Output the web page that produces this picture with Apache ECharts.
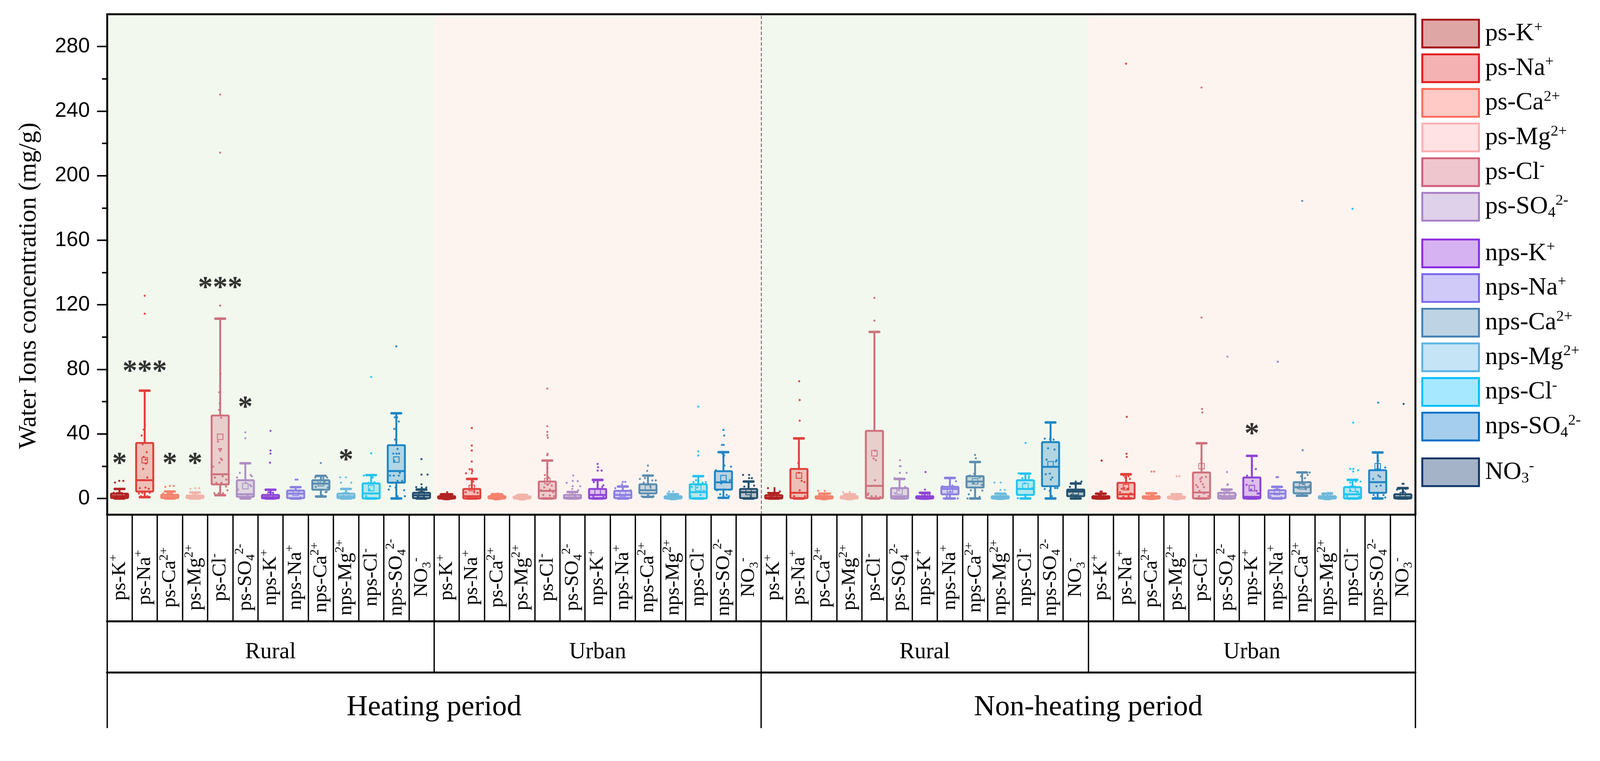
<!DOCTYPE html>
<html><head><meta charset="utf-8">
<script src="https://cdn.jsdelivr.net/npm/echarts@6/dist/echarts.min.js"></script>
<style>html,body{margin:0;padding:0;background:#fff;overflow:hidden}#c{position:absolute;left:0;top:0}</style>
</head><body><div id="c"></div>
<script>
// ---------------- DATA ----------------
const ions = ['ps-K+','ps-Na+','ps-Ca2+','ps-Mg2+','ps-Cl-','ps-SO42-','nps-K+','nps-Na+','nps-Ca2+','nps-Mg2+','nps-Cl-','nps-SO42-','NO3-'];
const ionBase = ['ps-K','ps-Na','ps-Ca','ps-Mg','ps-Cl','ps-SO','nps-K','nps-Na','nps-Ca','nps-Mg','nps-Cl','nps-SO','NO'];
const ionSub  = ['','','','','','4','','','','','','4','3'];
const ionSup  = ['+','+','2+','2+','-','2-','+','+','2+','2+','-','2-','-'];
const groupNames = ['Heating-Rural','Heating-Urban','Non-heating-Rural','Non-heating-Urban'];
const siteLabels = ['Rural','Urban','Rural','Urban'];
const periodLabels = ['Heating period','Non-heating period'];
const yTicks = [0,40,80,120,160,200,240,280];
const yMinorTicks = [20,60,100,140,180,220,260];

// box statistics per ion: [lowWhisker, Q1, median, Q3, highWhisker, mean]
const heatingRural = [
  [0,0.3,1.5,3.0,5.9,2.0],[0.8,4.3,11.3,34.4,66.8,23.7],[0,0.3,1.0,2.3,4.3,1.5],[0,0.2,0.8,1.8,3.7,1.2],
  [2.0,8.7,15.0,51.4,111.4,38.2],[0,1.0,2.6,11.3,21.8,7.6],[0,0.1,0.8,2.2,5.4,2.0],[0,0.2,3.0,4.9,7.0,3.5],
  [1.2,5.4,9.2,11.3,14.0,9.5],[0,0.2,1.4,3.0,5.9,2.0],[0,0,3.1,9.3,14.5,6.4],[0,9.8,17.0,33.0,52.8,24.1],[0,0.2,2.0,3.5,5.5,2.5]];
const heatingUrban = [
  [0,0,0.6,1.4,2.6,0.9],[0,0,1.4,5.9,12.1,6.5],[0,0,0.5,1.4,2.6,0.8],[0,0,0.4,1.3,2.2,0.7],
  [0,0,4.7,10.5,23.5,10.8],[0,0,0.6,2.2,4.0,2.0],[0,0,2.2,5.9,11.5,3.9],[0,0.2,2.2,4.7,7.4,3.0],
  [1.0,3.1,5.1,8.8,14.2,6.5],[0,0,0.5,1.4,2.6,0.9],[0,0,3.9,8.8,13.8,6.5],[0.4,5.5,10.0,16.9,28.7,12.6],[0,0.2,3.9,5.9,10.5,4.0]];
const nonHeatingRural = [
  [0,0,0.6,2.0,3.3,1.2],[0,0.2,3.5,18.3,37.2,14.2],[0,0,0.5,1.4,3.0,0.9],[0,0,0.4,1.4,2.6,0.8],
  [0,0.2,7.8,41.9,103.2,28.0],[0,0,1.4,6.4,12.1,4.3],[0,0,0.5,1.4,3.5,1.1],[0,2.6,5.9,7.2,12.7,5.5],
  [0,6.8,10.5,13.8,22.6,10.6],[0,0,0.5,1.4,3.0,1.0],[0,2.2,5.9,11.3,15.4,7.6],[0,7.6,19.6,34.9,47.1,21.2],[0,1.4,4.3,5.5,9.3,4.0]];
const nonHeatingUrban = [
  [0,0,0.5,1.4,3.0,1.2],[0,0,2.6,9.7,15.0,7.0],[0,0,0.5,1.4,3.2,1.0],[0,0,0.4,1.2,2.6,0.8],
  [0,0,3.7,16.1,34.2,20.0],[0,0,1.4,3.5,5.5,3.0],[0,0,1.0,13.0,26.4,6.4],[0,0.2,3.0,5.1,7.2,4.0],
  [1.7,3.2,7.0,10.1,16.1,7.5],[0,0,0.4,1.4,3.0,0.9],[0,0,2.6,7.0,11.5,6.0],[0,3.5,10.1,17.5,28.5,20.0],[0,0,0.8,2.6,6.4,2.0]];

// individual samples per group: [ionIndex, value, horizontal jitter (category widths)]
const heatingRuralPts = [
 [0,9.9,-0.18],[0,10.9,-0.01],[0,10.9,0.15],[0,1.4,-0.1],[0,1.0,0.16],[0,2.2,0.25],[0,3.5,-0.23],[0,0.6,0.08],
 [1,125.6,0],[1,114.5,0],[1,45.2,0.01],[1,42.7,-0.04],[1,39,-0.12],[1,35.7,0],[1,33.6,-0.08],[1,28.7,0.08],[1,25.8,-0.04],[1,24.1,0.04],[1,21.6,0.05],[1,18.3,-0.06],[1,13,0.1],[1,6.4,-0.19],[1,6.8,0.03],[1,6.0,0.16],[1,3.1,-0.23],[1,3.4,-0.1],[1,3.5,0.2],[1,1.4,-0.15],[1,1.4,0.11],[1,0.6,-0.04],
 [2,7.2,-0.18],[2,7.8,0],[2,7.8,0.15],[2,3.1,-0.27],[2,1.4,-0.1],[2,2.2,0.21],[2,3.9,0.08],
 [3,5.9,-0.18],[3,6.4,0.01],[3,6.4,0.17],[3,1.4,-0.27],[3,1.4,0.12],
 [4,250.3,0],[4,214.3,0],[4,119.5,0],[4,77.4,0.01],[4,65.8,-0.04],[4,58.8,-0.02],[4,54.9,-0.04],[4,50,0.04],[4,35.3,-0.09],[4,30.7,-0.04],[4,30.7,0.04],[4,29.5,0],[4,24.7,0.03],[4,23.9,0.07],[4,22.2,-0.03],[4,19.7,-0.28],[4,13,-0.21],[4,13.8,0.1],[4,9.7,-0.15],[4,9.7,0.05],[4,11.7,0.24],[4,3.2,-0.23],[4,3.2,-0.06],[4,3.2,0.11],[4,7.4,0.23],[4,5.1,0.29],
 [5,41,0],[5,37.3,0],[5,15.9,-0.22],[5,14.6,0.21],[5,13.8,0.26],[5,13,-0.33],[5,9.7,0.02],[5,8.4,0.19],[5,7.6,0.23],[5,5.5,-0.29],[5,2.2,0.1],[5,1.0,-0.16],
 [6,41.9,0],[6,29.7,0],[6,27.8,0],[6,22.2,-0.02],[6,3.9,-0.07],[6,3.5,0.1],[6,1.0,-0.2],
 [7,11.7,0],[7,11.7,0.07],[7,5.1,-0.2],[7,4.7,0.15],[7,3.1,-0.07],[7,0.6,0.19],[7,0.2,-0.16],
 [8,22,0],[8,13,-0.22],[8,13.8,-0.11],[8,12.6,0.1],[8,13,0.25],[8,9.7,-0.03],[8,10.5,0.15],[8,7.2,-0.2],[8,6.8,0.28],[8,3.9,0.19],[8,4.1,0.23],[8,1.8,0.06],
 [9,13.1,-0.23],[9,13.1,0],[9,9.8,-0.2],[9,9.8,0.21],[9,5.9,0.02],[9,3.1,-0.16],[9,1.4,0.15],
 [10,75.3,0],[10,28,0],[10,14.2,-0.29],[10,13,0.06],[10,10.1,0.13],[10,9.7,-0.11],[10,5.5,-0.07],[10,1.4,-0.2],
 [11,94.3,0],[11,50.3,-0.06],[11,50.3,0.03],[11,47.7,0.1],[11,43.1,-0.08],[11,36.5,-0.05],[11,30.7,0.05],[11,27.8,-0.12],[11,27.8,0.01],[11,27.8,0.11],[11,23.3,-0.08],[11,15.9,0.14],[11,14.2,-0.25],[11,14.2,-0.1],[11,14.2,0.1],[11,10.9,0.23],[11,10.9,0.05],[11,9.7,-0.18],[11,7.6,-0.25],[11,5.5,-0.3],[11,6.8,-0.03],[11,5.1,0.31],[11,1.4,0.34],[11,1.4,0.05],
 [12,24.4,0],[12,14.8,0],[12,14.8,0.24],[12,8.8,0],[12,7,-0.21],[12,6.8,0.01],[12,6.8,0.19],[12,5.5,-0.08],[12,1.5,0.1],[12,1.0,-0.15]];
const heatingUrbanPts = [
 [0,3.9,0.02],[0,2.6,-0.24],[0,2.6,0.23],[0,1.8,-0.09],[0,1.4,0.1],[0,0.5,-0.15],
 [1,43.7,0],[1,32.8,0],[1,29.7,0],[1,22.9,0],[1,18.1,-0.09],[1,18.1,0],[1,17,0.02],[1,15.6,-0.23],[1,15.6,0],[1,10.5,0.06],[1,3.9,-0.24],[1,3.9,0.1],[1,3.5,0.23],[1,1.0,-0.11],[1,0.5,0.2],
 [2,3.1,0.02],[2,2.1,-0.23],[2,2.1,0.23],[2,1.0,-0.11],[2,1.4,0.1],
 [3,2.6,0.02],[3,1.4,-0.24],[3,1.4,0.19],[3,1.4,0.32],[3,0.5,0],
 [4,68.1,0],[4,44.8,0],[4,41.3,0],[4,39.2,0],[4,37.7,0.02],[4,27.7,0.01],[4,26.8,0],[4,18.8,0.01],[4,14.5,-0.1],[4,13,0.05],[4,8.4,0.01],[4,8.0,0.18],[4,6.8,-0.12],[4,5.1,-0.25],[4,5.5,0.1],[4,3.9,0.23],[4,2.2,-0.16],[4,1.8,0.1],[4,1.4,0.27],
 [5,14.2,0.03],[5,10.9,0.01],[5,9.7,-0.23],[5,10.7,0.21],[5,7.6,0.01],[5,7.6,0.31],[5,5.9,-0.01],[5,5.1,0.23],[5,1.4,0.1],
 [6,21.4,0],[6,19.4,0.02],[6,17.3,0],[6,17.3,0.16],[6,10.1,-0.15],[6,8.2,0.23],[6,7.2,0.18],[6,1.4,-0.17],[6,1.0,0.23],
 [7,10.3,0],[7,10.3,0.1],[7,8.8,-0.03],[7,6.4,-0.3],[7,5.1,0.31],[7,0.2,-0.21],[7,0.2,0.18],
 [8,20.4,0],[8,17.1,-0.03],[8,12.1,-0.32],[8,12.6,-0.12],[8,11.2,0.17],[8,11.2,0.31],[8,9.8,-0.17],[8,7.2,0.1],[8,1.4,-0.25],[8,1.4,0.05],[8,1.4,0.22],
 [9,4.3,-0.16],[9,4.3,0],[9,3.1,-0.22],[9,1.4,0.17],
 [10,56.9,0],[10,29.2,0],[10,26.6,0],[10,10.1,-0.19],[10,11.3,-0.09],[10,9.8,0.17],[10,10.1,0.3],[10,7.2,-0.26],[10,6.8,-0.04],[10,4.7,0.22],[10,2.2,0.09],[10,1.4,-0.3],
 [11,42.5,0],[11,39,0.03],[11,33.2,-0.06],[11,33.2,0.01],[11,27.8,-0.04],[11,26.6,0.03],[11,25.4,0],[11,20.4,0.04],[11,19.7,0.3],[11,17.5,-0.3],[11,11.3,0.26],[11,9.3,-0.09],[11,2.6,-0.13],[11,2.2,0.13],[11,5.1,-0.26],[11,1.4,0.22],
 [12,14.6,-0.22],[12,14.6,0.02],[12,12.6,0.02],[12,12.6,0.13],[12,7.4,-0.17],[12,7.6,0],[12,8.0,0.22],[12,1.4,0.09]];
const nonHeatingRuralPts = [
 [0,6.4,-0.23],[0,6.4,0.03],[0,5.4,0.03],[0,4.3,0.03],[0,3.5,-0.22],[0,4.3,0.24],[0,1.4,-0.1],
 [1,72.6,0.01],[1,61,0.03],[1,48.2,0.03],[1,21.9,-0.02],[1,15.9,0],[1,10.9,0.11],[1,10.2,0.22],[1,5.1,0.03],[1,1.4,-0.19],[1,1.4,0.24],
 [2,4.7,-0.23],[2,4.7,0.03],[2,3.1,0.24],[2,2.2,-0.19],[2,1.4,0.11],
 [3,3.9,-0.24],[3,3.9,0.02],[3,2.6,0.23],[3,1.8,-0.2],[3,1.0,0.06],
 [4,124.3,0],[4,110.2,0],[4,29.7,0.02],[4,24.7,-0.03],[4,23.7,0.06],[4,11.3,0.02],[4,3.1,-0.24],[4,2.2,-0.27],[4,1.4,-0.11],[4,1.4,0.06],[4,1.0,0.23],
 [5,23.7,0.02],[5,20,0.01],[5,20,0.04],[5,15.9,0.01],[5,15.9,0.28],[5,12.6,-0.2],[5,7.2,0.22],[5,5.1,-0.03],[5,3.2,-0.18],[5,1.4,0.1],
 [6,16.4,0.03],[6,5.5,0.01],[6,2.6,0.19],[6,1.4,-0.07],[6,1.0,0.1],
 [7,10.7,0.24],[7,7.6,-0.3],[7,8.0,0.1],[7,4.3,0.01],[7,0,-0.25],[7,0,0.31],[7,1.4,-0.12],
 [8,27,0],[8,24.9,0.03],[8,15.4,-0.03],[8,14.2,-0.21],[8,13,0.18],[8,9.7,-0.06],[8,8.4,0.27],[8,5.1,-0.17],[8,4.9,0.29],[8,2.6,-0.25],[8,0,-0.3],[8,1.0,0.18],
 [9,9.9,-0.23],[9,9.9,0.02],[9,5.3,0.01],[9,5.3,0.18],[9,2.6,0.23],[9,1.4,-0.17],
 [10,34.4,0.01],[10,15.6,-0.27],[10,13.8,0.14],[10,12.6,-0.12],[10,12.6,0.14],[10,9.4,-0.03],[10,6.4,0.27],[10,0.2,-0.3],[10,0.2,0.18],[10,2.2,-0.03],
 [11,37.1,-0.23],[11,36.9,-0.02],[11,36.5,0.12],[11,31.1,-0.1],[11,30.3,0.16],[11,24.1,-0.16],[11,23.7,0.24],[11,22.9,0.21],[11,15,-0.19],[11,15.4,-0.03],[11,13,0.07],[11,11.7,0.01],[11,5.9,-0.23],[11,6.4,0.27],[11,6.4,0.18],[11,4.7,-0.03],[11,1.4,0.05],
 [12,7.2,-0.23],[12,10.5,0],[12,10.5,0.23],[12,5.1,0],[12,5.1,0.26],[12,2.2,-0.17],[12,1.4,0.13]];
const nonHeatingUrbanPts = [
 [0,23.5,0.03],[0,4.3,-0.01],[0,4.3,0.03],[0,2.2,-0.07],[0,1.4,-0.2],[0,1.4,0.15],
 [1,269.4,0],[1,50.6,0.03],[1,27.7,0.02],[1,25.8,0.03],[1,14.2,-0.09],[1,13.8,0.1],[1,12.1,0.15],[1,13,-0.03],[1,6.4,-0.07],[1,6.0,-0.17],[1,6.0,0.06],[1,3.9,-0.24],[1,3.1,0.19],[1,1.0,-0.11],[1,1.4,0.1],
 [2,16.7,0.01],[2,16.7,0.12],[2,3.1,-0.03],[2,2.2,0.05],[2,1.0,-0.16],[2,1.0,0.23],
 [3,13.8,0.01],[3,13.8,0.12],[3,2.2,-0.03],[3,1.0,-0.16],[3,1.0,0.18],
 [4,254.6,0],[4,112.1,0],[4,55.5,0.02],[4,53.3,0.03],[4,24.5,-0.01],[4,13,0.01],[4,13.4,0.18],[4,12.1,-0.05],[4,10.5,-0.03],[4,8.3,-0.21],[4,8.8,0.05],[4,7.0,-0.15],[4,7.0,0.1],[4,4.7,-0.08],[4,3.1,0.1],[4,1.4,-0.1],[4,1.4,0.27],
 [5,87.9,0.03],[5,16.4,0.01],[5,8.8,0.05],[5,8.4,0.03],[5,1.8,-0.25],[5,3.1,-0.08],[5,1.4,0.18],[5,2.2,0.36],
 [6,18.2,0.16],[6,20.4,0.01],[6,14.2,-0.19],[6,10.9,0.03],[6,8.4,-0.21],[6,5.5,-0.03],[6,4.7,0.18],[6,3.1,0.23],[6,3.1,0.27],[6,1.0,-0.17],
 [7,84.7,0.03],[7,13.2,-0.02],[7,13.2,0.04],[7,1.4,-0.26],[7,0.6,0.17],[7,3.1,-0.09],[7,0.2,0.3],
 [8,184.4,0],[8,29.9,0.02],[8,16.1,0.3],[8,14.6,0.22],[8,13.8,-0.04],[8,12.6,0.11],[8,8.8,0.04],[8,6.4,-0.17],[8,5.8,0.15],[8,8.0,0.3],[8,1.6,-0.22],[8,1.6,0.04],
 [9,3.5,0.03],[9,3.5,0.13],[9,2.2,-0.17],[9,0.6,-0.09],[9,1.4,0.3],
 [10,179.5,0],[10,47,0.03],[10,18.3,-0.09],[10,18.3,0.03],[10,17.5,0.22],[10,16.7,0.03],[10,10.5,0.32],[10,9.8,-0.09],[10,10.5,0.13],[10,4.3,0.17],[10,3.9,0.22],[10,1.4,-0.22],[10,1.0,0.26],[10,5.1,-0.09],
 [11,59.4,0.02],[11,26.2,0],[11,23.5,0.02],[11,19.2,0.3],[11,14.2,0.03],[11,12.1,-0.18],[11,13.4,0.1],[11,7.6,-0.05],[11,8.0,0.12],[11,2.2,-0.16],[11,2.1,0.23],[11,0.6,-0.1],[11,0.6,0.3],
 [12,58.6,0.03],[12,9.1,-0.01],[12,9.1,0.03],[12,5.9,-0.14],[12,5.9,0.12],[12,4.3,0.03],[12,5.5,-0.23]];

// significance marks: [slot, value, text]
const signif = [[0,23.8,'*'],[1,81,'***'],[2,23.8,'*'],[3,23.8,'*'],[4,132.6,'***'],[5,58.6,'*'],[9,26,'*'],[45,42.2,'*']];

// ---------------- STYLE ----------------
const plotColors = ['#B22222','#E0403C','#F4836E','#F2B4AA','#D0707E','#AE8EC4','#8E44D6','#8B7FE3','#5B8DB0','#6DBADC','#22C4F0','#1E86C6','#23506F'];
const legendBorder = ['#A50F15','#E41A1C','#FF6B5B','#FFB0B0','#D35C7A','#A97FC6','#8A2BE2','#7B68EE','#4682B4','#5CB3E4','#00BFFF','#0072C9','#0D3566'];
const legendFill = ['#DFA6A6','#F4B2B3','#FFCAC5','#FFE2E4','#EFC5CE','#DFD1E9','#D6B2F3','#D0CAF9','#BED3E4','#C5E4F5','#A6E8FF','#A5CEEE','#A4B3C7'];
const bgColors = ['#F2F8EE','#FDF4F0','#F2F8EE','#FDF4F0'];
const SERIF = 'Liberation Serif';

const VW = window.innerWidth || 4204, VH = window.innerHeight || 1948;
const f = Math.min(VW/4204, VH/1948);
const S = v => v*f;
const CW = Math.floor(4204*f), CH = Math.floor(1948*f);
const dom = document.getElementById('c');
dom.style.width = CW + 'px'; dom.style.height = CH + 'px';

function rgba(hex, a){const n=parseInt(hex.slice(1),16);return 'rgba('+(n>>16&255)+','+(n>>8&255)+','+(n&255)+','+a+')';}
function richName(k){return '{b|'+ionBase[k]+'}'+(ionSub[k]?'{sub|'+ionSub[k]+'}':'')+'{sup|'+ionSup[k]+'}';}

const nIon = ions.length;
const groupStats = [heatingRural, heatingUrban, nonHeatingRural, nonHeatingUrban];
const groupPts = [heatingRuralPts, heatingUrbanPts, nonHeatingRuralPts, nonHeatingUrbanPts];
const slots = [];
for (let g = 0; g < groupStats.length; g++) for (let k = 0; k < nIon; k++) slots.push(String(g*nIon+k));

function makeRender(color, fill){
  return function(params, api){
    const x = api.value(0);
    const P = v => api.coord([x, v]);
    const band = api.size([1,0])[0];
    const cx = P(api.value(1))[0];
    const yL=P(api.value(1))[1], yQ1=P(api.value(2))[1], yM=P(api.value(3))[1], yQ3=P(api.value(4))[1], yH=P(api.value(5))[1], yMean=P(api.value(6))[1];
    const bw=band*0.68, cw=band*0.38, ms=band*0.22;
    const ls={stroke:color,lineWidth:S(5),lineCap:'round'};
    const cs={stroke:color,lineWidth:S(6.5),lineCap:'round'};
    return {type:'group',children:[
      {type:'line',shape:{x1:cx,y1:yQ1,x2:cx,y2:yL},style:ls},
      {type:'line',shape:{x1:cx,y1:yQ3,x2:cx,y2:yH},style:ls},
      {type:'line',shape:{x1:cx-cw/2,y1:yL,x2:cx+cw/2,y2:yL},style:cs},
      {type:'line',shape:{x1:cx-cw/2,y1:yH,x2:cx+cw/2,y2:yH},style:cs},
      {type:'rect',shape:{x:cx-bw/2,y:yQ3,width:bw,height:yQ1-yQ3,r:S(2)},style:{fill:fill,stroke:color,lineWidth:S(5),lineJoin:'round'}},
      {type:'line',shape:{x1:cx-bw/2,y1:yM,x2:cx+bw/2,y2:yM},style:{stroke:color,lineWidth:S(5)}},
      {type:'rect',shape:{x:cx-ms/2,y:yMean-ms/2,width:ms,height:ms},style:{fill:'none',stroke:color,lineWidth:S(2.2)}}
    ]};
  };
}

const series = [];
series.push({
  type:'line', xAxisIndex:3, yAxisIndex:0, z:1, silent:true, showSymbol:false,
  data:[[0,-100]], lineStyle:{width:0},
  markArea:{silent:true, data: groupNames.map((n,i)=>[{xAxis:i*nIon, itemStyle:{color:bgColors[i]}},{xAxis:(i+1)*nIon}])},
  markLine:{silent:true, symbol:'none', label:{show:false}, lineStyle:{type:[S(9),S(5)],color:'#555',width:S(2)}, data:[{xAxis:2*nIon}]}
});
for (let k = 0; k < nIon; k++) {
  const boxData = groupStats.map((gs,g)=>[g*nIon+k].concat(gs[k]));
  series.push({
    type:'custom', name:ions[k], xAxisIndex:0, yAxisIndex:0, z:2,
    renderItem: makeRender(plotColors[k], rgba(plotColors[k],0.3)),
    encode:{x:0, y:[1,2,3,4,5,6]},
    data: boxData
  });
}
for (let k = 0; k < nIon; k++) {
  const pts = [];
  groupPts.forEach((arr,g)=>arr.forEach(p=>{ if(p[0]===k) pts.push([g*nIon+k+0.5+p[2], p[1]]); }));
  series.push({
    type:'scatter', name:ions[k], xAxisIndex:3, yAxisIndex:0, z:3, silent:true,
    symbol:'circle', symbolSize:S(5.5), itemStyle:{color:plotColors[k], opacity:0.95},
    data: pts
  });
}
series.push({
  type:'scatter', xAxisIndex:0, yAxisIndex:0, z:4, silent:true,
  symbol:'circle', symbolSize:1, itemStyle:{color:'rgba(0,0,0,0)'},
  label:{show:true, position:'inside', formatter:p=>p.data[2], fontFamily:SERIF, fontWeight:'bold', fontSize:S(78), color:'#000', offset:[0,S(12)]},
  data: signif
});

const legendRich = {
  b:{fontFamily:SERIF,fontSize:S(66),color:'#000',lineHeight:S(72),verticalAlign:'middle'},
  sup:{fontFamily:SERIF,fontSize:S(40),color:'#000',lineHeight:S(34),verticalAlign:'top'},
  sub:{fontFamily:SERIF,fontSize:S(40),color:'#000',lineHeight:S(34),verticalAlign:'bottom'}
};
// icon tops measured: 53 / 630.5 / 1205.5 ; item box is taller than icon by ~7.5 px (text)
function legendBlock(idxs, iconTop){
  return {
    orient:'vertical', left:S(3734.5), top:S(iconTop-3.75), itemWidth:S(149), itemHeight:S(73), itemGap:S(13),
    selectedMode:false, icon:'rect', padding:0,
    data: idxs.map(k=>({name:ions[k], icon:'rect', itemStyle:{color:legendFill[k], borderColor:legendBorder[k], borderWidth:S(5)}})),
    formatter: name=>richName(ions.indexOf(name)),
    textStyle:{fontFamily:SERIF,fontSize:S(66),color:'#000',padding:[0,0,0,S(11)],rich:legendRich}
  };
}

const axisRich = {
  b:{fontFamily:SERIF,fontSize:S(53),color:'#000',lineHeight:S(63),verticalAlign:'middle'},
  sup:{fontFamily:SERIF,fontSize:S(33),color:'#000',lineHeight:S(30),verticalAlign:'top'},
  sub:{fontFamily:SERIF,fontSize:S(33),color:'#000',lineHeight:S(30),verticalAlign:'bottom'}
};

const option = {
  animation:false,
  backgroundColor:'#fff',
  grid:{left:S(281), right:S(4204-3719), top:S(37.5), bottom:S(1948-1353), containLabel:false, outerBoundsMode:'none'},
  legend:[legendBlock([0,1,2,3,4,5],53), legendBlock([6,7,8,9,10,11],630.5), legendBlock([12],1205.5)],
  xAxis:[
    {type:'category', data:slots, position:'bottom', z:10,
     axisLine:{show:true,onZero:false,lineStyle:{color:'#000',width:S(5)}},
     axisTick:{show:true,interval:0,length:S(280),lineStyle:{color:'#000',width:S(3.5)}},
     axisLabel:{interval:0,hideOverlap:false,rotate:90,align:'center',verticalAlign:'middle',margin:S(165),
       formatter:(v)=>richName(Number(v)%nIon), rich:axisRich, fontFamily:SERIF, fontSize:S(53), color:'#000'},
     splitLine:{show:false}},
    {type:'category', data:siteLabels.map((s,i)=>String(i)), position:'bottom', offset:S(280), z:10,
     axisLine:{show:true,onZero:false,lineStyle:{color:'#000',width:S(5)}},
     axisTick:{show:true,interval:0,length:S(135),lineStyle:{color:'#000',width:S(3.5)}},
     axisLabel:{interval:0,margin:S(82),verticalAlign:'middle',formatter:(v)=>siteLabels[Number(v)],fontFamily:SERIF,fontSize:S(60),color:'#000'},
     splitLine:{show:false}},
    {type:'category', data:periodLabels.map((s,i)=>String(i)), position:'bottom', offset:S(415), z:10,
     axisLine:{show:true,onZero:false,lineStyle:{color:'#000',width:S(5)}},
     axisTick:{show:true,interval:0,length:S(146),lineStyle:{color:'#000',width:S(3.5)}},
     axisLabel:{interval:0,margin:S(92),verticalAlign:'middle',formatter:(v)=>periodLabels[Number(v)],fontFamily:SERIF,fontSize:S(77),color:'#000'},
     splitLine:{show:false}},
    {type:'value', min:0, max:slots.length, position:'top', z:10,
     axisLine:{show:true,onZero:false,lineStyle:{color:'#000',width:S(5)}},
     axisTick:{show:false}, axisLabel:{show:false}, splitLine:{show:false}}
  ],
  yAxis:[
    {type:'value', min:-10, max:300, position:'left', z:10,
     axisLine:{show:true,onZero:false,lineStyle:{color:'#000',width:S(5)}},
     axisTick:{show:true,customValues:yTicks,length:S(26),lineStyle:{color:'#000',width:S(4)}},
     axisLabel:{customValues:yTicks,fontFamily:'Liberation Sans',fontSize:S(55),color:'#000',margin:S(45)},
     splitLine:{show:false},
     name:'Water Ions concentration (mg/g)', nameLocation:'middle', nameGap:S(172), nameMoveOverlap:false,
     nameTextStyle:{fontFamily:SERIF,fontSize:S(66),color:'#000',padding:[0,S(112),0,0]}},
    {type:'value', min:-10, max:300, position:'left', z:10,
     axisLine:{show:false,onZero:false},
     axisTick:{show:true,customValues:yMinorTicks,length:S(13),lineStyle:{color:'#000',width:S(4)}},
     axisLabel:{show:false}, splitLine:{show:false}},
    {type:'value', min:-10, max:300, position:'right', z:10,
     axisLine:{show:true,onZero:false,lineStyle:{color:'#000',width:S(5)}},
     axisTick:{show:false}, axisLabel:{show:false}, splitLine:{show:false}}
  ],
  series: series
};
const chart = echarts.init(dom, null, {renderer:'canvas', width:CW, height:CH});
chart.setOption(option);
</script></body></html>
